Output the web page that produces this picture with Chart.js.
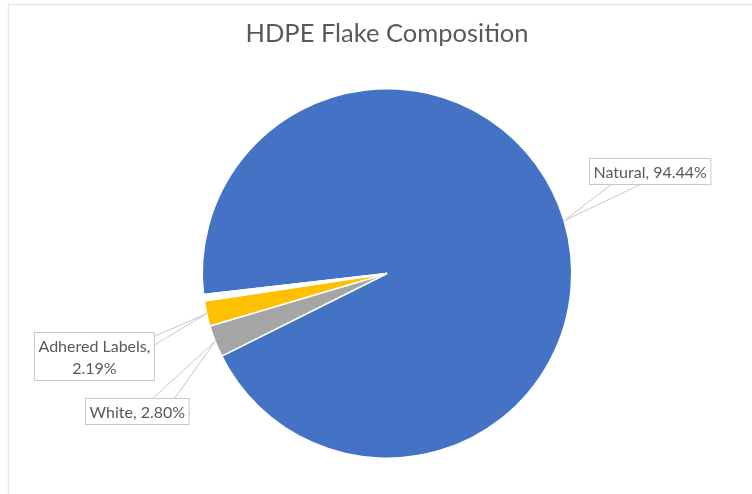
<!DOCTYPE html>
<html>
<head>
<meta charset="utf-8">
<title>HDPE Flake Composition</title>
<script src="https://cdn.jsdelivr.net/npm/chart.js@4.4.0/dist/chart.umd.min.js"></script>
<style>
  html, body { margin: 0; padding: 0; background: #fff; }
  canvas { display: block; }
</style>
</head>
<body>
<canvas id="flakeChart" width="752" height="494"></canvas>
<script>
const categories = ['Natural', 'White', 'Adhered Labels', 'Other'];
const shares = [94.44, 2.80, 2.19, 0.57];
const sliceColors = ['#4472C4', '#A5A5A5', '#FFC000', '#FFFFFF'];
// labels are only shown for the first three slices
const showLabel = [true, true, true, false];
const wrapLabel = [false, false, true, false];

// callout box centre, relative to the point on the rim at the slice's mid angle
const calloutOffsets = [[86, -50], [-78, 70], [-113, 42], null];
// which side of the box the pointer leaves from, and where along that side
const calloutBase = [['bottom', 0.18, 0.42], ['top', 0.65, 0.86], ['right', 0.08, 0.26], null];

const textColor = '#595959';
const labelFont = '16px Lato';
const labelLineH = 22;

function labelText(i) {
    const pct = shares[i].toFixed(2) + '%';
    if (wrapLabel[i]) return [categories[i] + ',', pct];
    return [categories[i] + ', ' + pct];
}

// light frame along the top and left edges
const framePlugin = {
    id: 'frame',
    beforeDraw(chart) {
        const ctx = chart.ctx;
        ctx.save();
        ctx.fillStyle = '#fff';
        ctx.fillRect(0, 0, chart.width, chart.height);
        ctx.strokeStyle = '#e6e6e6';
        ctx.lineWidth = 1.5;
        ctx.beginPath();
        ctx.moveTo(chart.width, 4.5);
        ctx.lineTo(8.5, 4.5);
        ctx.lineTo(8.5, chart.height);
        ctx.stroke();
        ctx.restore();
    }
};

// data labels in boxes with wedge pointers
const calloutPlugin = {
    id: 'callouts',
    afterDatasetsDraw(chart) {
        const ctx = chart.ctx;
        const arcs = chart.getDatasetMeta(0).data;
        ctx.save();
        ctx.font = labelFont;
        arcs.forEach((arc, i) => {
            if (!showLabel[i]) return;
            const p = arc.getProps(['x', 'y', 'startAngle', 'endAngle', 'outerRadius']);
            const mid = (p.startAngle + p.endAngle) / 2;
            const ax = p.x + Math.cos(mid) * p.outerRadius;
            const ay = p.y + Math.sin(mid) * p.outerRadius;

            const lines = labelText(i);
            const w = Math.max(...lines.map(l => ctx.measureText(l).width)) + 8;
            const h = lines.length * labelLineH + 4;
            const cx = ax + calloutOffsets[i][0];
            const cy = ay + calloutOffsets[i][1];
            const left = Math.round(cx - w / 2) + 0.5;
            const top = Math.round(cy - h / 2) + 0.5;

            const [side, f1, f2] = calloutBase[i];
            let b1, b2;
            if (side === 'bottom') { b1 = [left + w * f1, top + h]; b2 = [left + w * f2, top + h]; }
            if (side === 'top') { b1 = [left + w * f1, top]; b2 = [left + w * f2, top]; }
            if (side === 'right') { b1 = [left + w, top + h * f1]; b2 = [left + w, top + h * f2]; }

            ctx.strokeStyle = '#c8c8c8';
            ctx.lineWidth = 1;
            ctx.fillStyle = '#fff';
            ctx.beginPath();
            ctx.moveTo(b1[0], b1[1]);
            ctx.lineTo(ax, ay);
            ctx.lineTo(b2[0], b2[1]);
            ctx.closePath();
            ctx.fill();
            ctx.beginPath();
            ctx.moveTo(b1[0], b1[1]);
            ctx.lineTo(ax, ay);
            ctx.lineTo(b2[0], b2[1]);
            ctx.stroke();

            ctx.fillRect(left, top, w, h);
            ctx.strokeRect(left, top, w, h);

            ctx.fillStyle = textColor;
            ctx.textAlign = 'center';
            ctx.textBaseline = 'middle';
            lines.forEach((l, k) => {
                ctx.fillText(l, left + w / 2, top + 2 + labelLineH * (k + 0.5) + 1);
            });
        });
        ctx.restore();
    }
};

new Chart(document.getElementById('flakeChart'), {
    type: 'pie',
    data: {
        labels: categories,
        datasets: [{
            data: shares,
            backgroundColor: sliceColors,
            borderColor: '#ffffff',
            borderWidth: 1.5
        }]
    },
    options: {
        responsive: false,
        animation: false,
        devicePixelRatio: 1,
        rotation: 263.45,
        layout: {
            padding: { left: 22, right: 0, top: 0, bottom: 35 }
        },
        plugins: {
            legend: { display: false },
            tooltip: { enabled: false },
            title: {
                display: true,
                text: 'HDPE Flake Composition',
                color: textColor,
                font: { family: 'Lato', size: 25.5, weight: 'normal' },
                padding: { top: 18, bottom: 39.4 }
            }
        }
    },
    plugins: [framePlugin, calloutPlugin]
});
</script>
</body>
</html>
